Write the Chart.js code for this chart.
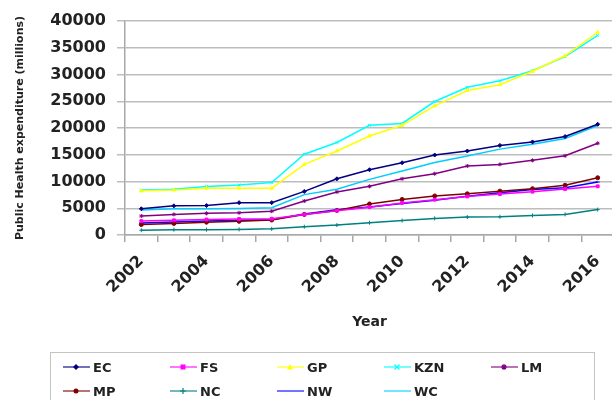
<!DOCTYPE html>
<html>
<head>
<meta charset="utf-8">
<script src="https://cdn.jsdelivr.net/npm/chart.js@4/dist/chart.umd.min.js"></script>
<style>
  html, body { margin: 0; padding: 0; background: #fff; overflow: hidden; }
  #wrap { position: relative; width: 612px; height: 400px; overflow: hidden; }
  #c { position: absolute; left: 0; top: 0; }
  #legend {
    position: absolute; left: 50px; top: 352px; width: 545px; height: 60px;
    border: 1px solid #c4c4c4; box-sizing: border-box;
    font-family: "DejaVu Sans", sans-serif; font-weight: bold; font-size: 13px; color: #222;
  }
  .item { position: absolute; display: flex; align-items: center; height: 18px; }
  .item svg { margin-right: 3px; }
</style>
</head>
<body>
<div id="wrap">
  <canvas id="c" width="619" height="400"></canvas>
  <div id="legend"></div>
</div>
<script>
// Provincial public health expenditure, 2002-2016 (millions)
const years = ['2002','2003','2004','2005','2006','2007','2008','2009','2010','2011','2012','2013','2014','2015','2016'];
const provinces = ['EC','FS','GP','KZN','LM','MP','NC','NW','WC'];

const EC  = [4900, 5450, 5500, 6050, 6050, 8150, 10500, 12200, 13500, 14950, 15700, 16750, 17400, 18400, 20700];
const FS  = [2600, 2750, 2900, 3000, 3050, 3850, 4550, 5200, 6000, 6600, 7200, 7650, 8100, 8600, 9100];
const GP  = [8250, 8400, 8750, 8750, 8750, 13200, 15700, 18500, 20500, 24150, 27000, 28100, 30600, 33500, 37900];
const KZN = [8400, 8550, 9050, 9350, 9800, 15100, 17300, 20500, 20850, 24950, 27600, 28850, 30700, 33350, 37300];
const LM  = [3550, 3850, 4050, 4150, 4450, 6350, 8050, 9100, 10500, 11450, 12900, 13200, 13950, 14800, 17150];
const MP  = [1950, 2150, 2400, 2550, 2800, 3850, 4600, 5800, 6650, 7300, 7700, 8200, 8650, 9300, 10700];
const NC  = [900, 1000, 1000, 1050, 1150, 1550, 1850, 2300, 2700, 3100, 3350, 3400, 3650, 3850, 4750];
const NW  = [2250, 2450, 2600, 2750, 2850, 3950, 4700, 5250, 5900, 6500, 7250, 7900, 8500, 8850, 9900];
const WC  = [4650, 4900, 4900, 4950, 5100, 7550, 8550, 10400, 11950, 13550, 14750, 16050, 16950, 18050, 20450];

const yTicks = [0, 5000, 10000, 15000, 20000, 25000, 30000, 35000, 40000];

const seriesValues = [EC, FS, GP, KZN, LM, MP, NC, NW, WC];
const colors = ['#000080', '#ff00ff', '#ffff00', '#00ffff', '#800080', '#800000', '#008080', '#0000ff', '#00ccff'];
const markers = ['rectRot', 'rect', 'triangle', 'crossRot', 'star', 'circle', 'cross', 'line', false];

const datasets = provinces.map((name, i) => ({
  label: name,
  data: seriesValues[i],
  borderColor: colors[i],
  backgroundColor: colors[i],
  borderWidth: 1.5,
  pointStyle: markers[i],
  pointRadius: markers[i] ? 2 : 0,
  pointBorderWidth: 1,
  tension: 0
}));

const tickFont = { family: 'DejaVu Sans', size: 16, weight: 'bold' };

const chart = new Chart(document.getElementById('c'), {
  type: 'line',
  data: { labels: years, datasets },
  options: {
    responsive: false,
    animation: false,
    devicePixelRatio: 1,
    layout: { padding: { left: 0, right: 0, top: 21, bottom: 65 } },
    plugins: { legend: { display: false }, tooltip: { enabled: false } },
    scales: {
      x: {
        type: 'category',
        offset: true,
        grid: { offset: true, drawOnChartArea: false, drawTicks: true, tickLength: 7, color: '#a8a8a8', lineWidth: 1.5 },
        border: { color: '#a8a8a8', width: 1.5 },
        ticks: {
          autoSkip: false, maxRotation: 45, minRotation: 45, padding: 10,
          color: '#222', font: tickFont,
          callback: (v, i) => (i % 2 === 0 ? years[i] : '')
        },
        title: { display: true, text: 'Year', color: '#222', font: { family: 'DejaVu Sans', size: 14, weight: 'bold' }, padding: { top: 4, bottom: 4 } },
        afterFit: s => { s.height = 100; s.paddingRight = 0; }
      },
      y: {
        min: 0, max: 40000,
        afterBuildTicks: s => { s.ticks = yTicks.map(v => ({ value: v })); },
        grid: { color: '#bdbdbd', lineWidth: 1.5, tickLength: 8 },
        border: { color: '#a8a8a8', width: 1.5 },
        ticks: { color: '#222', font: tickFont, padding: 11, callback: v => String(v) },
        title: { display: true, text: 'Public Health expenditure (millions)', color: '#222', font: { family: 'DejaVu Sans', size: 11, weight: 'bold' }, padding: { top: 14, bottom: 0 } },
        afterFit: s => { s.width = 125; }
      }
    }
  }
});

// Legend: two rows in a fixed grid, built from the chart's datasets
function markerSvg(style, color) {
  const cx = 13, cy = 5;
  let m = '';
  switch (style) {
    case 'rectRot': m = `<polygon points="${cx},${cy-3} ${cx+3},${cy} ${cx},${cy+3} ${cx-3},${cy}" fill="${color}"/>`; break;
    case 'rect': m = `<rect x="${cx-2.5}" y="${cy-2.5}" width="5" height="5" fill="${color}"/>`; break;
    case 'triangle': m = `<polygon points="${cx},${cy-3} ${cx+3},${cy+2.5} ${cx-3},${cy+2.5}" fill="${color}"/>`; break;
    case 'circle': m = `<circle cx="${cx}" cy="${cy}" r="2.5" fill="${color}"/>`; break;
    case 'crossRot': m = `<path d="M${cx-2.5} ${cy-2.5}L${cx+2.5} ${cy+2.5}M${cx+2.5} ${cy-2.5}L${cx-2.5} ${cy+2.5}" stroke="${color}" stroke-width="1.2"/>`; break;
    case 'cross': m = `<path d="M${cx} ${cy-3}V${cy+3}M${cx-3} ${cy}H${cx+3}" stroke="${color}" stroke-width="1.2"/>`; break;
    case 'star': m = `<path d="M${cx} ${cy-3}V${cy+3}M${cx-3} ${cy}H${cx+3}M${cx-2} ${cy-2}L${cx+2} ${cy+2}M${cx+2} ${cy-2}L${cx-2} ${cy+2}" stroke="${color}" stroke-width="1.2"/>`; break;
    default: m = '';
  }
  return `<svg width="27" height="10"><line x1="0" y1="${cy}" x2="27" y2="${cy}" stroke="${color}" stroke-width="2" opacity="0.55"/>${m}</svg>`;
}
const legendEl = document.getElementById('legend');
chart.data.datasets.forEach((ds, i) => {
  const col = i % 5, row = Math.floor(i / 5);
  const div = document.createElement('div');
  div.className = 'item';
  div.style.left = (12 + col * 107) + 'px';
  div.style.top = (5 + row * 24) + 'px';
  div.innerHTML = markerSvg(ds.pointStyle, ds.borderColor) + '<span>' + ds.label + '</span>';
  legendEl.appendChild(div);
});
</script>
</body>
</html>
